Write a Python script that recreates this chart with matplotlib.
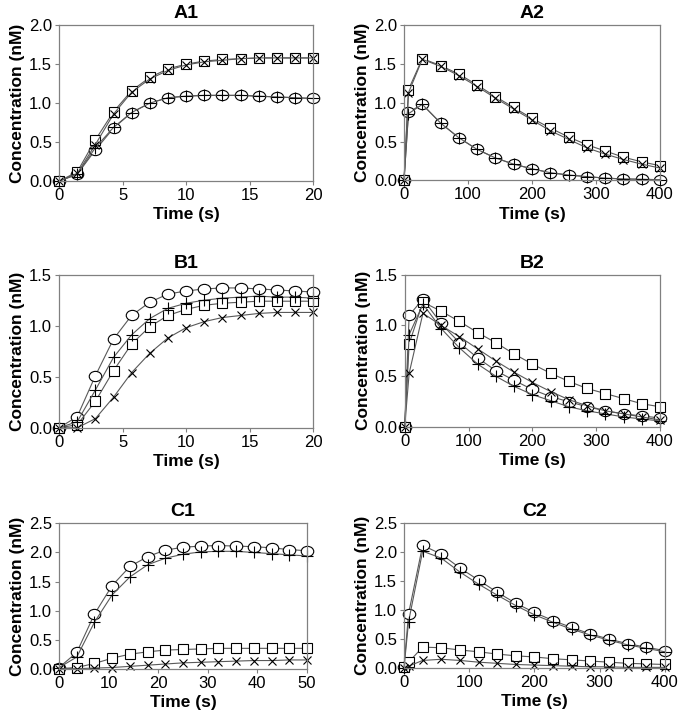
import matplotlib.pyplot as plt
from matplotlib.path import Path
from matplotlib.ticker import FormatStrFormatter

plt.rcParams['font.family'] = ['Liberation Sans', 'DejaVu Sans']

# time points
t_short = [0, 1.43, 2.86, 4.29, 5.71, 7.14, 8.57, 10, 11.43, 12.86, 14.29, 15.71, 17.14, 18.57, 20]
t_c1 = [0, 3.57, 7.14, 10.7, 14.3, 17.9, 21.4, 25, 28.6, 32.1, 35.7, 39.3, 42.9, 46.4, 50]
t_long = [0, 7, 28.6, 57.1, 85.7, 114.3, 142.9, 171.4, 200, 228.6, 257.1, 285.7, 314.3, 342.9, 371.4, 400]

# A1
a1_circle = [0, 0.09, 0.40, 0.68, 0.88, 1.00, 1.07, 1.09, 1.10, 1.10, 1.10, 1.09, 1.08, 1.07, 1.06]
a1_plus = [0, 0.09, 0.43, 0.69, 0.88, 1.00, 1.07, 1.09, 1.10, 1.10, 1.10, 1.09, 1.08, 1.07, 1.06]
a1_square = [0, 0.12, 0.53, 0.89, 1.16, 1.33, 1.44, 1.50, 1.54, 1.56, 1.57, 1.58, 1.58, 1.58, 1.58]
a1_x = [0, 0.10, 0.47, 0.86, 1.14, 1.31, 1.42, 1.49, 1.53, 1.55, 1.57, 1.58, 1.58, 1.58, 1.58]

# A2
a2_circle = [0, 0.88, 0.98, 0.74, 0.55, 0.40, 0.29, 0.21, 0.15, 0.10, 0.07, 0.05, 0.03, 0.02, 0.015, 0.01]
a2_plus = [0, 0.86, 0.98, 0.74, 0.55, 0.40, 0.29, 0.21, 0.15, 0.10, 0.07, 0.05, 0.03, 0.02, 0.015, 0.01]
a2_square = [0, 1.17, 1.57, 1.48, 1.37, 1.23, 1.08, 0.94, 0.80, 0.675, 0.56, 0.46, 0.38, 0.30, 0.24, 0.19]
a2_x = [0, 1.13, 1.56, 1.47, 1.35, 1.21, 1.06, 0.92, 0.78, 0.64, 0.53, 0.42, 0.34, 0.27, 0.21, 0.16]

# B1
b1_circle = [0, 0.11, 0.51, 0.87, 1.10, 1.23, 1.31, 1.34, 1.36, 1.37, 1.37, 1.36, 1.35, 1.34, 1.33]
b1_plus = [0, 0.06, 0.37, 0.69, 0.91, 1.07, 1.17, 1.22, 1.25, 1.27, 1.28, 1.29, 1.28, 1.28, 1.27]
b1_square = [0, 0.03, 0.26, 0.56, 0.82, 0.99, 1.10, 1.16, 1.20, 1.22, 1.23, 1.24, 1.24, 1.24, 1.24]
b1_x = [0, 0.0, 0.09, 0.30, 0.54, 0.73, 0.88, 0.98, 1.04, 1.08, 1.10, 1.12, 1.13, 1.13, 1.13]

# B2
b2_circle = [0, 1.10, 1.26, 1.02, 0.83, 0.68, 0.555, 0.46, 0.37, 0.30, 0.25, 0.20, 0.16, 0.13, 0.11, 0.09]
b2_plus = [0, 0.91, 1.21, 0.97, 0.78, 0.62, 0.50, 0.40, 0.32, 0.26, 0.20, 0.16, 0.13, 0.10, 0.08, 0.06]
b2_square = [0, 0.82, 1.23, 1.14, 1.04, 0.93, 0.83, 0.72, 0.62, 0.53, 0.45, 0.38, 0.33, 0.28, 0.23, 0.20]
b2_x = [0, 0.53, 1.12, 1.00, 0.89, 0.77, 0.65, 0.54, 0.44, 0.35, 0.27, 0.21, 0.16, 0.13, 0.10, 0.07]

# C1
c1_circle = [0.02, 0.28, 0.94, 1.43, 1.76, 1.93, 2.04, 2.09, 2.11, 2.12, 2.11, 2.10, 2.08, 2.05, 2.03]
c1_plus = [0.02, 0.20, 0.80, 1.27, 1.58, 1.79, 1.90, 1.97, 2.01, 2.02, 2.02, 2.00, 1.98, 1.96, 1.94]
c1_square = [0, 0.02, 0.09, 0.18, 0.25, 0.29, 0.32, 0.33, 0.34, 0.35, 0.35, 0.35, 0.35, 0.35, 0.35]
c1_x = [0, 0.0, 0.01, 0.02, 0.04, 0.06, 0.08, 0.10, 0.11, 0.12, 0.13, 0.14, 0.14, 0.15, 0.15]

# C2
c2_circle = [0.02, 0.94, 2.12, 1.97, 1.73, 1.52, 1.31, 1.12, 0.96, 0.82, 0.70, 0.59, 0.50, 0.42, 0.36, 0.30]
c2_plus = [0, 0.80, 2.02, 1.90, 1.66, 1.45, 1.26, 1.08, 0.92, 0.79, 0.67, 0.57, 0.48, 0.40, 0.34, 0.28]
c2_square = [0.02, 0.10, 0.36, 0.35, 0.31, 0.28, 0.24, 0.21, 0.19, 0.16, 0.14, 0.12, 0.10, 0.08, 0.07, 0.06]
c2_x = [0, 0.03, 0.13, 0.15, 0.13, 0.10, 0.08, 0.06, 0.05, 0.04, 0.03, 0.02, 0.02, 0.01, 0.01, 0.01]

panels = [
    ('A1', t_short, [a1_circle, a1_square, a1_plus, a1_x], 2.0, 20, 5, [0.087, 0.748, 0.374, 0.217]),
    ('A2', t_long, [a2_circle, a2_square, a2_plus, a2_x], 2.0, 400, 100, [0.595, 0.749, 0.377, 0.216]),
    ('B1', t_short, [b1_circle, b1_square, b1_plus, b1_x], 1.5, 20, 5, [0.087, 0.405, 0.374, 0.213]),
    ('B2', t_long, [b2_circle, b2_square, b2_plus, b2_x], 1.5, 400, 100, [0.596, 0.406, 0.376, 0.212]),
    ('C1', t_c1, [c1_circle, c1_square, c1_plus, c1_x], 2.5, 50, 10, [0.087, 0.070, 0.365, 0.202]),
    ('C2', t_long, [c2_circle, c2_square, c2_plus, c2_x], 2.5, 400, 100, [0.595, 0.071, 0.384, 0.201]),
]

# circles in the original are a bit squashed
uc = Path.unit_circle()
ellipse = Path(uc.vertices * [1.0, 0.82], uc.codes)

markers = [(ellipse, 9, 'white'), ('s', 6.5, 'white'), ('+', 8.5, 'none'), ('x', 5.5, 'none')]

fig = plt.figure(figsize=(6.79, 7.19), dpi=100)

for name, t, series, ymax, xmax, xstep, pos in panels:
    ax = fig.add_axes(pos)
    for ys, (m, ms, fc) in zip(series, markers):
        ax.plot(t, ys, color='0.35', lw=0.8, marker=m, ms=ms,
                mfc=fc, mec='black', mew=0.8, clip_on=False)
    ax.set_xlim(0, xmax)
    ax.set_ylim(0, ymax)
    ax.set_xticks(range(0, xmax + 1, xstep))
    ax.set_yticks([i * 0.5 for i in range(int(ymax / 0.5) + 1)])
    ax.yaxis.set_major_formatter(FormatStrFormatter('%.1f'))
    ax.tick_params(labelsize=12, length=3, color='0.5', width=0.8, pad=2)
    for s in ax.spines.values():
        s.set_color('0.5')
        s.set_linewidth(0.9)
    ax.set_title(name, fontsize=14, fontweight='bold', pad=5)
    ax.set_xlabel('Time (s)', fontsize=12.5, fontweight='bold', labelpad=3)
    ax.set_ylabel('Concentration (nM)', fontsize=12.5, fontweight='bold', labelpad=3)

fig.savefig('out.png', dpi=100)
